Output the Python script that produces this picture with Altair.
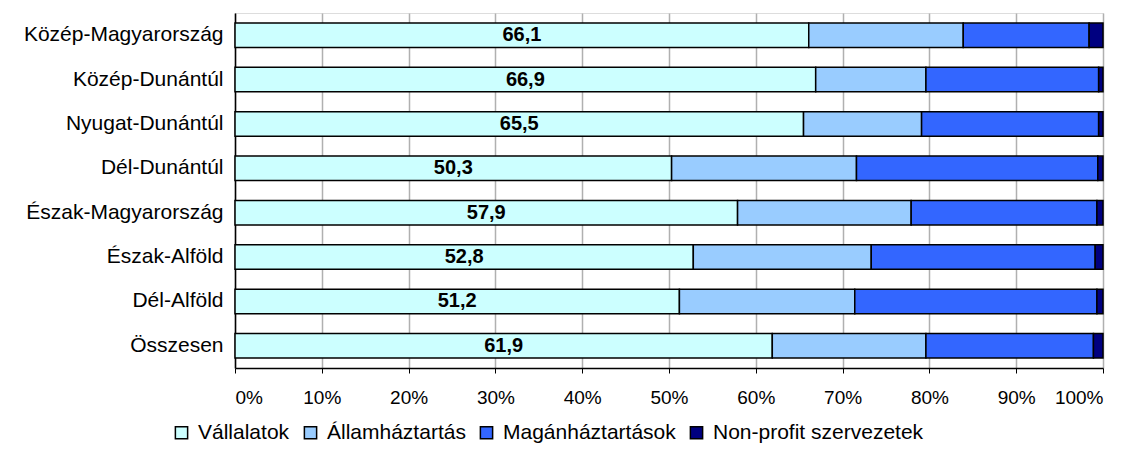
import altair as alt
import pandas as pd

regions = ["Közép-Magyarország", "Közép-Dunántúl", "Nyugat-Dunántúl", "Dél-Dunántúl",
           "Észak-Magyarország", "Észak-Alföld", "Dél-Alföld", "Összesen"]
series = ["Vállalatok", "Államháztartás", "Magánháztartások", "Non-profit szervezetek"]
colors = ["#CCFFFF", "#99CCFF", "#3366FF", "#000080"]

vallalatok = [66.1, 66.9, 65.5, 50.3, 57.9, 52.8, 51.2, 61.9]
allam = [17.8, 12.7, 13.6, 21.3, 20.0, 20.5, 20.2, 17.7]
magan = [14.5, 19.9, 20.4, 27.8, 21.4, 25.8, 27.9, 19.3]
nonprofit = [1.6, 0.5, 0.5, 0.6, 0.7, 0.9, 0.7, 1.1]
x_ticks = [0, 10, 20, 30, 40, 50, 60, 70, 80, 90, 100]

rows = []
for i, r in enumerate(regions):
    for j, (s, vals) in enumerate(zip(series, [vallalatok, allam, magan, nonprofit])):
        rows.append({"region": r, "series": s, "order": j, "value": vals[i]})
df = pd.DataFrame(rows)

lab = pd.DataFrame({
    "region": regions,
    "value": vallalatok,
    "label": [f"{v:.1f}".replace(".", ",") for v in vallalatok],
})

FONT = "Liberation Sans"

y_enc = alt.Y("region:N", sort=regions, title=None,
              scale=alt.Scale(paddingInner=0.45, paddingOuter=0.225),
              axis=alt.Axis(labelFontSize=21, labelFont=FONT, labelColor="black",
                            labelPadding=12, ticks=False, domainColor="black",
                            domainWidth=1.5, grid=False, labelLimit=400))

bars = alt.Chart(df).mark_bar(stroke="black", strokeWidth=1.5).encode(
    x=alt.X("value:Q", stack="zero", title=None,
            scale=alt.Scale(domain=[0, 100], nice=False),
            axis=alt.Axis(values=x_ticks, labelExpr="datum.value + '%'",
                          labelFontSize=19, labelFont=FONT, labelColor="black",
                          labelPadding=15, tickSize=5, tickColor="black",
                          domainColor="black", domainWidth=1.5,
                          grid=True, gridColor="#b0b0b0", gridWidth=1.5)),
    y=y_enc,
    color=alt.Color("series:N", sort=series,
                    scale=alt.Scale(domain=series, range=colors),
                    legend=alt.Legend(orient="none", legendX=-64, legendY=409,
                                      direction="horizontal", columns=4, title=None,
                                      symbolType="square", symbolSize=150,
                                      symbolStrokeColor="black", symbolStrokeWidth=1.5,
                                      symbolOpacity=1,
                                      labelFontSize=21, labelFont=FONT,
                                      labelColor="black", labelOffset=6,
                                      labelLimit=400, columnPadding=10)),
    order=alt.Order("order:Q"),
)

text = alt.Chart(lab).transform_calculate(mid="datum.value / 2").mark_text(
    fontSize=20, fontWeight="bold", font=FONT, color="black", baseline="middle"
).encode(
    x=alt.X("mid:Q"),
    y=alt.Y("region:N", sort=regions),
    text="label:N",
)

chart = alt.layer(bars, text).properties(
    width=868, height=355,
    autosize=alt.AutoSizeParams(type="none"),
    padding={"left": 227, "top": 5, "right": 24, "bottom": 75},
).configure_view(stroke="#808080", strokeWidth=1.5).configure(background="white")

chart.save("out.html", embed_options={"renderer": "svg", "actions": False})
